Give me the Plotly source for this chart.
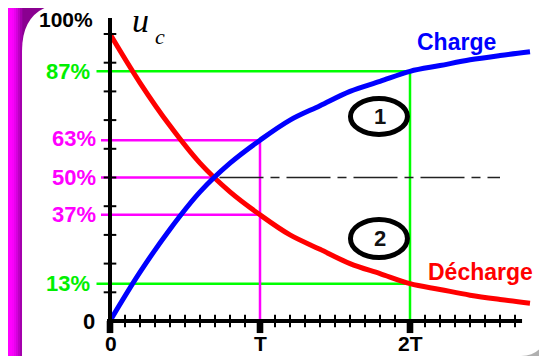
import plotly.graph_objects as go

# time in units of T, values in % of E
t_points = [0, 0.2, 0.4, 0.6, 0.8, 1.0, 1.2, 1.4, 1.6, 1.8, 2.0, 2.2, 2.4, 2.6, 2.8]
charge = [0, 17, 32, 45, 55, 63, 70, 75, 80, 83.5, 87, 89, 91, 92.5, 93.8]
decharge = [100, 83, 68, 55, 45, 37, 30, 25, 20, 16.5, 13, 11, 9, 7.5, 6.2]

green_levels = [87, 13]
pink_levels = [63, 37]
half_level = 50
cross_t = 0.69
dash_end = 2.6

y_tick_vals = [10, 20, 30, 40, 50, 60, 70, 80, 90, 100]
x_minor_ticks = [i / 10 for i in range(1, 28) if i % 10]
x_major_ticks = [0, 1, 2]
x_tick_text = ["0", "T", "2T"]

GREEN = "#00ff00"
PINK = "#ff00ff"
# the page body adds an 8px margin, so the figure covers page pixels 8..547 / 8..356
OFF = 8
W, H = 547 - OFF, 356 - OFF


def pp(points):
    # page pixel coords -> paper path (margins are zero so paper == figure)
    out = []
    for cmd, *xy in points:
        coords = " ".join(f"{(x - OFF) / W:.4f},{1 - (y - OFF) / H:.4f}"
                          for x, y in zip(xy[::2], xy[1::2]))
        out.append(f"{cmd} {coords}")
    return " ".join(out) + " Z"


def prect(x0, y0, x1, y1, color):
    return dict(type="rect", xref="paper", yref="paper", layer="below", line_width=0, fillcolor=color,
                x0=(x0 - OFF) / W, x1=(x1 - OFF) / W, y0=1 - (y1 - OFF) / H, y1=1 - (y0 - OFF) / H)


fig = go.Figure()

# reference lines
for lv in green_levels:
    fig.add_trace(go.Scatter(x=[-0.09, 2], y=[lv, lv], mode="lines",
                             line=dict(color=GREEN, width=2.5), hoverinfo="skip"))
fig.add_trace(go.Scatter(x=[2, 2], y=[green_levels[0], 0], mode="lines",
                         line=dict(color=GREEN, width=2.5), hoverinfo="skip"))
for lv in pink_levels:
    fig.add_trace(go.Scatter(x=[-0.06, 1], y=[lv, lv], mode="lines",
                             line=dict(color=PINK, width=2.5), hoverinfo="skip"))
fig.add_trace(go.Scatter(x=[1, 1], y=[pink_levels[0], 0], mode="lines",
                         line=dict(color=PINK, width=2.5), hoverinfo="skip"))
fig.add_trace(go.Scatter(x=[-0.06, cross_t], y=[half_level, half_level], mode="lines",
                         line=dict(color=PINK, width=2.5), hoverinfo="skip"))
fig.add_trace(go.Scatter(x=[cross_t + 0.04, dash_end], y=[half_level, half_level], mode="lines",
                         line=dict(color="#222222", width=1.6, dash="44px,7px,9px,7px"),
                         hoverinfo="skip"))

# curves
fig.add_trace(go.Scatter(x=t_points, y=decharge, mode="lines", name="Décharge",
                         line=dict(color="#ff0000", width=5, shape="spline")))
fig.add_trace(go.Scatter(x=t_points, y=charge, mode="lines", name="Charge",
                         line=dict(color="#0000ff", width=5, shape="spline")))

# ticks
fig.add_trace(go.Scatter(x=[0] * len(y_tick_vals), y=y_tick_vals, mode="markers",
                         marker=dict(symbol="line-ew", size=9, line=dict(color="black", width=2)),
                         hoverinfo="skip"))
fig.add_trace(go.Scatter(x=x_minor_ticks, y=[0] * len(x_minor_ticks), mode="markers",
                         marker=dict(symbol="line-ns", size=9, line=dict(color="black", width=2)),
                         hoverinfo="skip"))

shapes = []
# page decoration
shapes.append(prect(490, 300, 547, 356, "#b0b0b0"))
strip = ["#ff00ff", "#f800fa", "#e800ee", "#d400dc", "#bc00c4", "#a400ac", "#92009a"]
edges = [0, 12, 14, 16, 18, 20, 22, 23]
for c, a, b in zip(strip, edges[:-1], edges[1:]):
    shapes.append(prect(a, 0, b, 356, c))
shapes.append(dict(type="path", xref="paper", yref="paper", layer="below", fillcolor="white", line_width=0,
                   path=pp([("M", 22, 356), ("L", 22, 51), ("Q", 22, 3, 71, 3), ("L", 547, 3),
                            ("L", 547, 328), ("Q", 546, 355, 521, 356)])))
shapes.append(prect(57, 0, 547, 2.5, "#c8c8c8"))

# axes
shapes.append(dict(type="line", x0=0, x1=0, y0=-1, y1=105.6, line=dict(color="black", width=4)))
shapes.append(dict(type="line", x0=-0.02, x1=2.747, y0=0, y1=0, line=dict(color="black", width=4)))
for xm in x_major_ticks:
    shapes.append(dict(type="rect", x0=xm - 0.022, x1=xm + 0.022, y0=-4.2, y1=0,
                       fillcolor="black", line_width=0))

# circled numbers
for y0, y1 in [(65.0, 77.5), (22.1, 35.4)]:
    shapes.append(dict(type="circle", x0=1.603, x1=1.983, y0=y0, y1=y1,
                       line=dict(color="black", width=5)))

ann = []
font_b = "Liberation Sans, Arial, sans-serif"


def label(x, y, text, color, size=22, xanchor="center"):
    ann.append(dict(x=x, y=y, text=f"<b>{text}</b>", showarrow=False, xanchor=xanchor,
                    yanchor="middle", font=dict(family=font_b, size=size, color=color)))


label(-0.1, 104.9, "100%", "black", size=21, xanchor="right")
label(-0.12, 87, "87%", "#00f000", xanchor="right")
label(-0.08, 63.5, "63%", PINK, xanchor="right")
label(-0.08, 50, "50%", PINK, xanchor="right")
label(-0.08, 37, "37%", PINK, xanchor="right")
label(-0.12, 13, "13%", "#00f000", xanchor="right")
label(-0.09, 0, "0", "black", xanchor="right")
for xm, txt in zip(x_major_ticks, x_tick_text):
    label(xm + 0.005, -8, txt, "black", size=21)
label(2.307, 97.2, "Charge", "#0000ff", size=23)
label(2.473, 17.1, "Décharge", "#ff0000", size=23)
label(1.8, 71.3, "1", "#111111", size=22)
label(1.8, 28.8, "2", "#111111", size=22)

ann.append(dict(x=0.205, y=104.6, text="<i>u</i>", showarrow=False,
                font=dict(family="Liberation Serif, Times New Roman, serif", size=34, color="black")))
ann.append(dict(x=0.33, y=99, text="<i>c</i>", showarrow=False,
                font=dict(family="Liberation Serif, Times New Roman, serif", size=22, color="black")))

fig.update_layout(
    width=W, height=H,
    margin=dict(l=0, r=0, t=0, b=0),
    paper_bgcolor="#8a0090",
    plot_bgcolor="rgba(0,0,0,0)",
    showlegend=False,
    shapes=shapes,
    annotations=ann,
    xaxis=dict(range=[-(110 - OFF) / 150, (547 - 110) / 150], visible=False, fixedrange=True),
    yaxis=dict(range=[-(356 - 321) / 2.87, (321 - OFF) / 2.87], visible=False, fixedrange=True),
)

fig.write_html("out.html")
